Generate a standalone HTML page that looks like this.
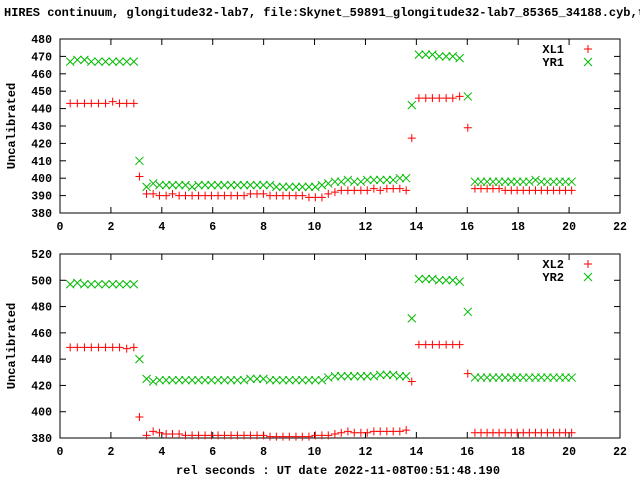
<!DOCTYPE html>
<html><head><meta charset="utf-8"><style>
body{margin:0;background:#fff}
svg{display:block;font-family:"Liberation Mono",monospace;font-weight:bold;font-size:12px}
</style></head><body>
<svg id="c" width="640" height="480" xmlns="http://www.w3.org/2000/svg">
<rect width="640" height="480" fill="#fff"/>
<text x="4" y="16">HIRES continuum, glongitude32-lab7, file:Skynet_59891_glongitude32-lab7_85365_34188.cyb,t</text>
<text x="338" y="474" text-anchor="middle">rel seconds : UT date 2022-11-08T00:51:48.190</text>
<text transform="translate(15,126) rotate(-90)" text-anchor="middle">Uncalibrated</text>
<text transform="translate(15,346) rotate(-90)" text-anchor="middle">Uncalibrated</text>
</svg>
<script>
const times=[0.40,0.68,0.96,1.23,1.51,1.79,2.07,2.34,2.62,2.90,3.12,3.40,3.66,3.91,4.17,4.42,4.68,4.93,5.19,5.44,5.70,5.95,6.21,6.46,6.72,6.97,7.23,7.48,7.74,7.99,8.25,8.50,8.76,9.01,9.27,9.52,9.78,10.03,10.29,10.54,10.80,11.05,11.31,11.56,11.82,12.07,12.33,12.58,12.84,13.09,13.35,13.60,13.82,14.10,14.37,14.63,14.90,15.17,15.43,15.70,16.02,16.30,16.54,16.78,17.01,17.25,17.49,17.73,17.96,18.20,18.44,18.68,18.91,19.15,19.39,19.63,19.86,20.10];
const xl1=[443,443,443,443,443,443,444,443,443,443,401,391,391,390,390,391,390,390,390,390,390,390,390,390,390,390,390,391,391,391,390,390,390,390,390,390,389,389,389,391,392,393,393,393,393,393,394,393,394,394,394,393,423,446,446,446,446,446,446,447,429,394,394,394,394,394,393,393,393,393,393,393,393,393,393,393,393,393];
const yr1=[467,468,468,467,467,467,467,467,467,467,410,395,397,396,396,396,396,396,395,396,396,396,396,396,396,396,396,396,396,396,396,395,395,395,395,395,395,395,396,397,398,398,399,398,398,399,399,399,399,399,400,400,442,471,471,471,470,470,470,469,447,398,398,398,398,398,398,398,398,398,398,399,398,398,398,398,398,398];
const xl2=[449,449,449,449,449,449,449,449,448,449,396,382,385,384,383,383,383,382,382,382,382,382,382,382,382,382,382,382,382,382,381,381,381,381,381,381,381,382,382,382,383,384,385,384,384,384,385,385,385,385,385,386,423,451,451,451,451,451,451,451,429,384,384,384,384,384,384,384,384,384,384,384,384,384,384,384,384,384];
const yr2=[497,498,497,497,497,497,497,497,497,497,440,425,423,424,424,424,424,424,424,424,424,424,424,424,424,424,424,425,425,425,424,424,424,424,424,424,424,424,424,426,427,427,427,427,427,427,427,428,428,428,427,427,471,501,501,501,500,500,500,499,476,426,426,426,426,426,426,426,426,426,426,426,426,426,426,426,426,426];
const xTicks=[0,2,4,6,8,10,12,14,16,18,20,22];
const yTicksTop=[380,390,400,410,420,430,440,450,460,470,480];
const yTicksBot=[380,400,420,440,460,480,500,520];
const NS='http://www.w3.org/2000/svg';
const svg=document.getElementById('c');
function mk(t,a){const e=document.createElementNS(NS,t);for(const k in a)e.setAttribute(k,a[k]);svg.appendChild(e);return e;}
const X0=60,X1=620;
const sx=v=>X0+(v-0)/(22-0)*(X1-X0);
function panel(top,bot,ymin,ymax,yt,s1,s2,n1,n2,tag){
  const sy=v=>bot-(v-ymin)/(ymax-ymin)*(bot-top);
  const fr=mk('rect',{x:X0,y:top,width:X1-X0,height:bot-top,fill:'none',stroke:'#000','stroke-width':1});
  
  
  xTicks.forEach(t=>{
    const x=sx(t);
    mk('line',{x1:x,y1:bot,x2:x,y2:bot-6,stroke:'#000'});
    mk('line',{x1:x,y1:top,x2:x,y2:top+6,stroke:'#000'});
    const l=mk('text',{x:x,y:bot+17,'text-anchor':'middle','font-size':'11.5'});l.textContent=t;
    
    
  });
  yt.forEach(t=>{
    const y=sy(t);
    mk('line',{x1:X0,y1:y,x2:X0+6,y2:y,stroke:'#000'});
    mk('line',{x1:X1,y1:y,x2:X1-6,y2:y,stroke:'#000'});
    const l=mk('text',{x:X0-8,y:y+4,'text-anchor':'end','font-size':'11.5'});l.textContent=t;
    
    
  });
  const plus=(x,y,g)=>{const p=mk('path',{d:`M${x-4},${y}h8M${x},${y-4}v8`,stroke:'#f00','stroke-width':1,fill:'none'});};
  const cross=(x,y,g)=>{const p=mk('path',{d:`M${x-4},${y-4}l8,8M${x-4},${y+4}l8,-8`,stroke:'#0b0','stroke-width':1,fill:'none'});};
  s1.forEach((v,i)=>plus(sx(times[i]),sy(v),n1.toLowerCase()));
  s2.forEach((v,i)=>cross(sx(times[i]),sy(v),n2.toLowerCase()));
  const ly=top+10;
  const t1=mk('text',{x:564,y:ly+4,'text-anchor':'end'});t1.textContent=n1;
  
  
  plus(588,ly,'legend-'+n1.toLowerCase());
  const t2=mk('text',{x:564,y:ly+17,'text-anchor':'end'});t2.textContent=n2;
  
  
  cross(588,ly+13,'legend-'+n2.toLowerCase());
}
panel(39,213,380,480,yTicksTop,xl1,yr1,'XL1','YR1','top');
panel(254,438,380,520,yTicksBot,xl2,yr2,'XL2','YR2','bottom');
</script>
</body></html>
